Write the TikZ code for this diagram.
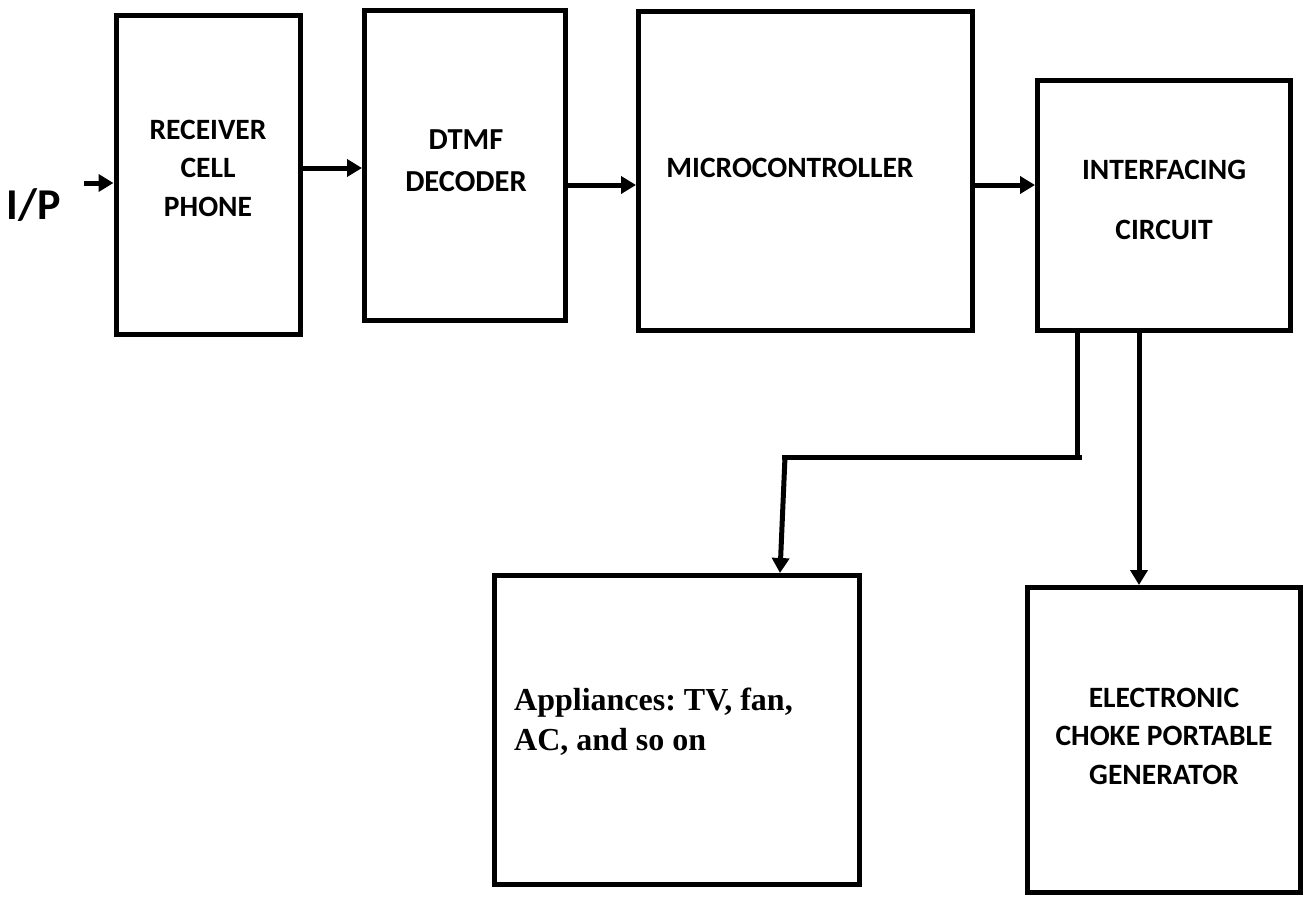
\documentclass[tikz,border=0pt]{standalone}
\usepackage{fontspec}
\setmainfont{Carlito}
\newfontfamily\tnr{Liberation Serif}
\usetikzlibrary{arrows.meta}
\frenchspacing
\begin{document}
\begin{tikzpicture}[x=1pt,y=-1pt,
  box/.style={draw,line width=5pt,inner sep=0pt,minimum width=#1},
  lbl/.style={align=center,inner sep=0pt,font=\bfseries\fontsize{29.5}{38.5}\selectfont},
  ln/.style={line width=5pt},
  arr/.style={line width=5pt,-{Triangle[length=15pt,width=17pt]}}]
\useasboundingbox (0,0) rectangle (1312,899);
% boxes
\node[box=184pt,minimum height=319pt] (r) at (208,175) {};
\node[box=201pt,minimum height=310pt] (d) at (465,165.5) {};
\node[box=334pt,minimum height=319pt] (m) at (805.5,171) {};
\node[box=253pt,minimum height=250pt] (i) at (1164,205.5) {};
\node[box=365pt,minimum height=309pt] (a) at (677,730) {};
\node[box=273pt,minimum height=305pt] (c) at (1164,740) {};
% texts
\node[lbl] (rt) at (208,168) {RECEIVER\\CELL\\PHONE};
\node[lbl,font=\bfseries\fontsize{30.5}{42}\selectfont] (dt) at (466,161) {DTMF\\DECODER};
\node[lbl,font=\bfseries\fontsize{29.5}{36}\selectfont] (mt) at (790,168) {MICROCONTROLLER};
\node[lbl,font=\bfseries\fontsize{29.5}{60}\selectfont] (it) at (1164,200) {INTERFACING\\CIRCUIT};
\node[lbl] (ct) at (1164,736) {ELECTRONIC\\CHOKE PORTABLE\\GENERATOR};
\node[inner sep=0pt,anchor=west,align=left,font=\tnr\bfseries\fontsize{32}{40}\selectfont] (at) at (514,722) {Appliances: TV, fan,\\AC, and so on};
\node[inner sep=0pt,font=\bfseries\fontsize{44}{50}\selectfont] (ip) at (34,205) {I/P};
% helper coordinates
\coordinate (s0) at (84,183);
\coordinate (y1) at (0,168);
\coordinate (y2) at (0,185);
\coordinate (xl) at (1077,0);
\coordinate (xr) at (1139,0);
\coordinate (hl) at (782,457);
\coordinate (hr) at (1082,457);
\coordinate (sl) at (785,457);
\coordinate (xa) at (780,0);
% connectors
\draw[arr] (s0) -- (r.west |- s0);
\draw[arr] (r.east |- y1) -- (d.west |- y1);
\draw[arr] (d.east |- y2) -- (m.west |- y2);
\draw[arr] (m.east |- y2) -- (i.west |- y2);
\draw[ln] (i.south -| xl) -- (xl |- hl);
\draw[ln] (hl) -- (hr);
\draw[arr] (sl) -- (a.north -| xa);
\draw[arr] (i.south -| xr) -- (c.north -| xr);
\end{tikzpicture}
\end{document}
